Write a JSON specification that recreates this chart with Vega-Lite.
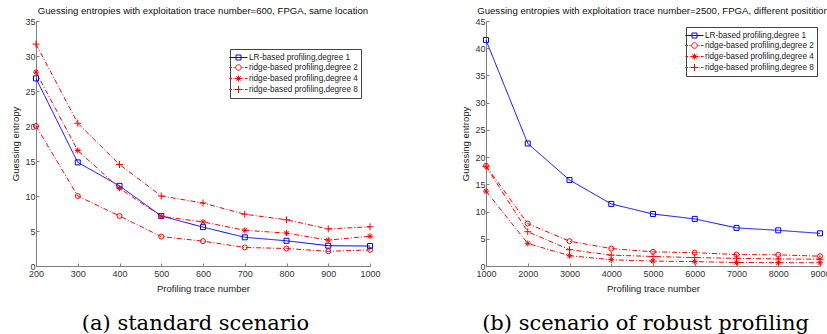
{
  "$schema": "https://vega.github.io/schema/vega-lite/v6.json",
  "background": "white",
  "padding": {"left": 10, "top": 5, "right": 0, "bottom": 0},
  "spacing": 79,
  "config": {
    "view": {"stroke": null},
    "font": "Liberation Sans",
    "axis": {
      "labelFont": "Liberation Sans", "titleFont": "Liberation Sans",
      "labelFontSize": 9, "titleFontSize": 9.5, "titleFontWeight": "normal",
      "labelColor": "#333333", "titleColor": "#222222",
      "domainColor": "#808080", "tickColor": "#808080",
      "grid": false, "tickSize": -3, "labelPadding": 4,
      "labelOverlap": false, "labelFlush": false, "labelBound": false
    },
    "axisX": {"labelPadding": 6},
    "title": {"font": "Liberation Sans", "fontSize": 9.6, "fontWeight": "normal", "color": "#111111", "anchor": "middle"},
    "legend": {
      "orient": "none", "title": null,
      "labelFont": "Liberation Sans", "labelFontSize": 8.2, "labelColor": "#222222",
      "strokeColor": "#444444", "fillColor": "white", "padding": 3, "rowPadding": 0,
      "symbolSize": 100, "symbolStrokeWidth": 1, "labelOffset": 5, "symbolOpacity": 1
    }
  },
  "resolve": {"scale": {"color": "independent", "shape": "independent"}, "legend": {"color": "independent", "shape": "independent"}},
  "datasets": {
    "a": [
      {"series": "LR-based profiling,degree 1", "n": 200, "ge": 26.8},
      {"series": "LR-based profiling,degree 1", "n": 300, "ge": 14.8},
      {"series": "LR-based profiling,degree 1", "n": 400, "ge": 11.45},
      {"series": "LR-based profiling,degree 1", "n": 500, "ge": 7.15},
      {"series": "LR-based profiling,degree 1", "n": 600, "ge": 5.55},
      {"series": "LR-based profiling,degree 1", "n": 700, "ge": 4.1},
      {"series": "LR-based profiling,degree 1", "n": 800, "ge": 3.6},
      {"series": "LR-based profiling,degree 1", "n": 900, "ge": 2.9},
      {"series": "LR-based profiling,degree 1", "n": 1000, "ge": 2.85},
      {"series": "ridge-based profiling,degree 2", "n": 200, "ge": 20.0},
      {"series": "ridge-based profiling,degree 2", "n": 300, "ge": 10.0},
      {"series": "ridge-based profiling,degree 2", "n": 400, "ge": 7.15},
      {"series": "ridge-based profiling,degree 2", "n": 500, "ge": 4.2},
      {"series": "ridge-based profiling,degree 2", "n": 600, "ge": 3.55},
      {"series": "ridge-based profiling,degree 2", "n": 700, "ge": 2.65},
      {"series": "ridge-based profiling,degree 2", "n": 800, "ge": 2.5},
      {"series": "ridge-based profiling,degree 2", "n": 900, "ge": 2.1},
      {"series": "ridge-based profiling,degree 2", "n": 1000, "ge": 2.3},
      {"series": "ridge-based profiling,degree 4", "n": 200, "ge": 27.7},
      {"series": "ridge-based profiling,degree 4", "n": 300, "ge": 16.5},
      {"series": "ridge-based profiling,degree 4", "n": 400, "ge": 11.1},
      {"series": "ridge-based profiling,degree 4", "n": 500, "ge": 7.1},
      {"series": "ridge-based profiling,degree 4", "n": 600, "ge": 6.3},
      {"series": "ridge-based profiling,degree 4", "n": 700, "ge": 5.1},
      {"series": "ridge-based profiling,degree 4", "n": 800, "ge": 4.7},
      {"series": "ridge-based profiling,degree 4", "n": 900, "ge": 3.7},
      {"series": "ridge-based profiling,degree 4", "n": 1000, "ge": 4.25},
      {"series": "ridge-based profiling,degree 8", "n": 200, "ge": 31.7},
      {"series": "ridge-based profiling,degree 8", "n": 300, "ge": 20.4},
      {"series": "ridge-based profiling,degree 8", "n": 400, "ge": 14.5},
      {"series": "ridge-based profiling,degree 8", "n": 500, "ge": 10.0},
      {"series": "ridge-based profiling,degree 8", "n": 600, "ge": 9.0},
      {"series": "ridge-based profiling,degree 8", "n": 700, "ge": 7.4},
      {"series": "ridge-based profiling,degree 8", "n": 800, "ge": 6.6},
      {"series": "ridge-based profiling,degree 8", "n": 900, "ge": 5.3},
      {"series": "ridge-based profiling,degree 8", "n": 1000, "ge": 5.6}
    ],
    "b": [
      {"series": "LR-based profiling,degree 1", "n": 1000, "ge": 41.5},
      {"series": "LR-based profiling,degree 1", "n": 2000, "ge": 22.5},
      {"series": "LR-based profiling,degree 1", "n": 3000, "ge": 15.8},
      {"series": "LR-based profiling,degree 1", "n": 4000, "ge": 11.4},
      {"series": "LR-based profiling,degree 1", "n": 5000, "ge": 9.55},
      {"series": "LR-based profiling,degree 1", "n": 6000, "ge": 8.65},
      {"series": "LR-based profiling,degree 1", "n": 7000, "ge": 7.0},
      {"series": "LR-based profiling,degree 1", "n": 8000, "ge": 6.55},
      {"series": "LR-based profiling,degree 1", "n": 9000, "ge": 6.0},
      {"series": "ridge-based profiling,degree 2", "n": 1000, "ge": 18.4},
      {"series": "ridge-based profiling,degree 2", "n": 2000, "ge": 7.8},
      {"series": "ridge-based profiling,degree 2", "n": 3000, "ge": 4.55},
      {"series": "ridge-based profiling,degree 2", "n": 4000, "ge": 3.2},
      {"series": "ridge-based profiling,degree 2", "n": 5000, "ge": 2.6},
      {"series": "ridge-based profiling,degree 2", "n": 6000, "ge": 2.45},
      {"series": "ridge-based profiling,degree 2", "n": 7000, "ge": 2.1},
      {"series": "ridge-based profiling,degree 2", "n": 8000, "ge": 2.05},
      {"series": "ridge-based profiling,degree 2", "n": 9000, "ge": 1.8},
      {"series": "ridge-based profiling,degree 4", "n": 1000, "ge": 13.75},
      {"series": "ridge-based profiling,degree 4", "n": 2000, "ge": 4.15},
      {"series": "ridge-based profiling,degree 4", "n": 3000, "ge": 1.9},
      {"series": "ridge-based profiling,degree 4", "n": 4000, "ge": 1.15},
      {"series": "ridge-based profiling,degree 4", "n": 5000, "ge": 0.9},
      {"series": "ridge-based profiling,degree 4", "n": 6000, "ge": 0.8},
      {"series": "ridge-based profiling,degree 4", "n": 7000, "ge": 0.65},
      {"series": "ridge-based profiling,degree 4", "n": 8000, "ge": 0.6},
      {"series": "ridge-based profiling,degree 4", "n": 9000, "ge": 0.6},
      {"series": "ridge-based profiling,degree 8", "n": 1000, "ge": 18.3},
      {"series": "ridge-based profiling,degree 8", "n": 2000, "ge": 6.3},
      {"series": "ridge-based profiling,degree 8", "n": 3000, "ge": 3.0},
      {"series": "ridge-based profiling,degree 8", "n": 4000, "ge": 2.0},
      {"series": "ridge-based profiling,degree 8", "n": 5000, "ge": 1.75},
      {"series": "ridge-based profiling,degree 8", "n": 6000, "ge": 1.55},
      {"series": "ridge-based profiling,degree 8", "n": 7000, "ge": 1.4},
      {"series": "ridge-based profiling,degree 8", "n": 8000, "ge": 1.3},
      {"series": "ridge-based profiling,degree 8", "n": 9000, "ge": 1.25}
    ]
  },
  "hconcat": [
    {
      "title": {"text": "(a) standard scenario", "orient": "bottom", "font": "DejaVu Serif", "fontSize": 21, "offset": 20, "anchor": "middle", "color": "#000000"},
      "vconcat": [
        {
          "title": {"text": "Guessing entropies with exploitation trace number=600, FPGA, same location", "offset": 1.5, "frame": "group"},
          "width": 334, "height": 245,
          "data": {"name": "a"},
          "encoding": {
            "x": {"field": "n", "type": "quantitative", "scale": {"domain": [200, 1000], "nice": false, "zero": false},
                  "axis": {"values": [200, 300, 400, 500, 600, 700, 800, 900, 1000], "format": "d", "title": "Profiling trace number", "titlePadding": 5}},
            "y": {"field": "ge", "type": "quantitative", "scale": {"domain": [0, 35], "nice": false},
                  "axis": {"values": [0, 5, 10, 15, 20, 25, 30, 35], "title": "Guessing entropy", "titlePadding": 4}}
          },
          "layer": [
            {"mark": {"type": "line", "strokeWidth": 1},
             "encoding": {
               "detail": {"field": "series", "type": "nominal"},
               "color": {"condition": {"test": "datum.series === 'LR-based profiling,degree 1'", "value": "#0000ff"}, "value": "#ff0000"},
               "strokeDash": {"condition": {"test": "datum.series === 'LR-based profiling,degree 1'", "value": [1, 0]}, "value": [5, 2, 1, 2]}}},
            {"mark": {"type": "point", "filled": false, "strokeWidth": 1, "size": 25, "opacity": 1},
             "encoding": {
               "color": {"condition": {"test": "datum.series === 'LR-based profiling,degree 1'", "value": "#0000ff"}, "value": "#ff0000"},
               "shape": {"condition": [
                 {"test": "datum.series === 'LR-based profiling,degree 1'", "value": "square"},
                 {"test": "datum.series === 'ridge-based profiling,degree 2'", "value": "circle"},
                 {"test": "datum.series === 'ridge-based profiling,degree 4'", "value": "M-1.2,0H1.2M0,-1.2V1.2M-0.85,-0.85L0.85,0.85M-0.85,0.85L0.85,-0.85"}],
                 "value": "M-1.4,0H1.4M0,-1.4V1.4"}}},
            {"transform": [{"filter": "false"}],
             "mark": {"type": "point", "filled": false, "strokeWidth": 1, "size": 100, "opacity": 1},
             "encoding": {
               "color": {"field": "series", "type": "nominal", "legend": {"legendX": 194, "legendY": 28},
                 "scale": {"domain": ["LR-based profiling,degree 1", "ridge-based profiling,degree 2", "ridge-based profiling,degree 4", "ridge-based profiling,degree 8"], "range": ["#0000ff", "#ff0000", "#ff0000", "#ff0000"]}},
               "shape": {"field": "series", "type": "nominal", "legend": {"legendX": 194, "legendY": 28},
                 "scale": {"domain": ["LR-based profiling,degree 1", "ridge-based profiling,degree 2", "ridge-based profiling,degree 4", "ridge-based profiling,degree 8"],
                   "range": ["M-1.8,0H1.8M-0.5,-0.5H0.5V0.5H-0.5Z",
                             "M-1.8,0H-1.3M-1.1,0H-1.0M-0.8,0H-0.55M0.55,0H0.8M1.0,0H1.1M1.3,0H1.8M0.55,0A0.55,0.55,0,1,1,-0.55,0A0.55,0.55,0,1,1,0.55,0",
                             "M-1.8,0H-1.3M-1.1,0H-1.0M-0.8,0H0.8M1.0,0H1.1M1.3,0H1.8M0,-0.6V0.6M-0.42,-0.42L0.42,0.42M-0.42,0.42L0.42,-0.42",
                             "M-1.8,0H-1.3M-1.1,0H-1.0M-0.8,0H0.8M1.0,0H1.1M1.3,0H1.8M0,-0.7V0.7"]}}}}
          ]
        }
      ]
    },
    {
      "title": {"text": "(b) scenario of robust profiling", "orient": "bottom", "font": "DejaVu Serif", "fontSize": 21, "offset": 20, "anchor": "middle", "color": "#000000"},
      "vconcat": [
        {
          "title": {"text": "Guessing entropies with exploitation trace number=2500, FPGA, different positition", "offset": 1.5, "frame": "group"},
          "width": 334, "height": 245,
          "data": {"name": "b"},
          "encoding": {
            "x": {"field": "n", "type": "quantitative", "scale": {"domain": [1000, 9000], "nice": false, "zero": false},
                  "axis": {"values": [1000, 2000, 3000, 4000, 5000, 6000, 7000, 8000, 9000], "format": "d", "title": "Profiling trace number", "titlePadding": 5}},
            "y": {"field": "ge", "type": "quantitative", "scale": {"domain": [0, 45], "nice": false},
                  "axis": {"values": [0, 5, 10, 15, 20, 25, 30, 35, 40, 45], "title": "Guessing entropy", "titlePadding": 4}}
          },
          "layer": [
            {"mark": {"type": "line", "strokeWidth": 1},
             "encoding": {
               "detail": {"field": "series", "type": "nominal"},
               "color": {"condition": {"test": "datum.series === 'LR-based profiling,degree 1'", "value": "#0000ff"}, "value": "#ff0000"},
               "strokeDash": {"condition": {"test": "datum.series === 'LR-based profiling,degree 1'", "value": [1, 0]}, "value": [5, 2, 1, 2]}}},
            {"mark": {"type": "point", "filled": false, "strokeWidth": 1, "size": 25, "opacity": 1},
             "encoding": {
               "color": {"condition": {"test": "datum.series === 'LR-based profiling,degree 1'", "value": "#0000ff"}, "value": "#ff0000"},
               "shape": {"condition": [
                 {"test": "datum.series === 'LR-based profiling,degree 1'", "value": "square"},
                 {"test": "datum.series === 'ridge-based profiling,degree 2'", "value": "circle"},
                 {"test": "datum.series === 'ridge-based profiling,degree 4'", "value": "M-1.2,0H1.2M0,-1.2V1.2M-0.85,-0.85L0.85,0.85M-0.85,0.85L0.85,-0.85"}],
                 "value": "M-1.4,0H1.4M0,-1.4V1.4"}}},
            {"transform": [{"filter": "false"}],
             "mark": {"type": "point", "filled": false, "strokeWidth": 1, "size": 100, "opacity": 1},
             "encoding": {
               "color": {"field": "series", "type": "nominal", "legend": {"legendX": 200, "legendY": 6},
                 "scale": {"domain": ["LR-based profiling,degree 1", "ridge-based profiling,degree 2", "ridge-based profiling,degree 4", "ridge-based profiling,degree 8"], "range": ["#0000ff", "#ff0000", "#ff0000", "#ff0000"]}},
               "shape": {"field": "series", "type": "nominal", "legend": {"legendX": 200, "legendY": 6},
                 "scale": {"domain": ["LR-based profiling,degree 1", "ridge-based profiling,degree 2", "ridge-based profiling,degree 4", "ridge-based profiling,degree 8"],
                   "range": ["M-1.8,0H1.8M-0.5,-0.5H0.5V0.5H-0.5Z",
                             "M-1.8,0H-1.3M-1.1,0H-1.0M-0.8,0H-0.55M0.55,0H0.8M1.0,0H1.1M1.3,0H1.8M0.55,0A0.55,0.55,0,1,1,-0.55,0A0.55,0.55,0,1,1,0.55,0",
                             "M-1.8,0H-1.3M-1.1,0H-1.0M-0.8,0H0.8M1.0,0H1.1M1.3,0H1.8M0,-0.6V0.6M-0.42,-0.42L0.42,0.42M-0.42,0.42L0.42,-0.42",
                             "M-1.8,0H-1.3M-1.1,0H-1.0M-0.8,0H0.8M1.0,0H1.1M1.3,0H1.8M0,-0.7V0.7"]}}}}
          ]
        }
      ]
    }
  ]
}
